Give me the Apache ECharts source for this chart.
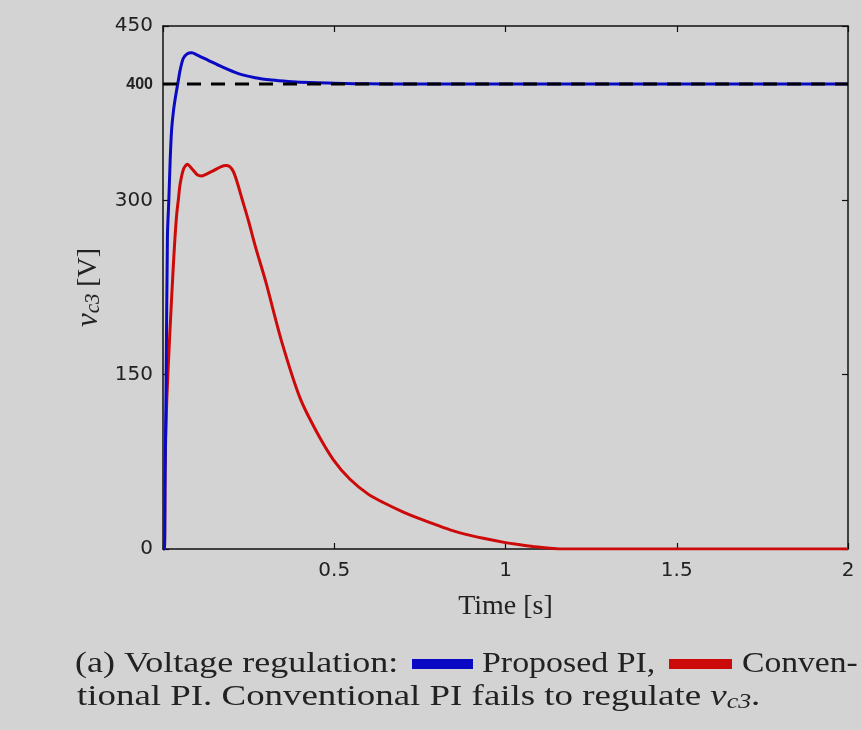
<!DOCTYPE html>
<html>
<head>
<meta charset="utf-8">
<script src="https://cdn.jsdelivr.net/npm/echarts@6/dist/echarts.min.js"></script>
<style>
  html, body { margin: 0; padding: 0; background: #d3d3d3; }
  #chart { width: 862px; height: 730px; }
</style>
</head>
<body>
<div id="chart"></div>
<script>
// time axis ticks and voltage ticks
var timeTicks = [0, 0.5, 1, 1.5, 2];
var voltTicks = [0, 150, 300, 400, 450];

// proposed PI (blue)
var timeBlue = [0, 0.004, 0.006, 0.009, 0.013, 0.017, 0.021, 0.025, 0.031, 0.037, 0.043, 0.05, 0.059, 0.07, 0.084, 0.1, 0.132, 0.171, 0.22, 0.269, 0.317, 0.366, 0.43, 0.5, 0.56, 0.65, 0.8, 1.0, 1.5, 2];
var voltBlue = [0, 0, 60, 140, 270, 300, 335, 360, 378, 390, 400, 412, 422, 426, 427, 425, 420.5, 415, 409, 405.5, 403.5, 402.3, 401.3, 400.8, 400.4, 400.1, 400, 400, 400, 400];

// conventional PI (red)
var timeRed = [0, 0.004, 0.006, 0.011, 0.02, 0.03, 0.035, 0.04, 0.045, 0.05, 0.06, 0.071, 0.085, 0.1, 0.113, 0.13, 0.15, 0.17, 0.183, 0.195, 0.205, 0.215, 0.23, 0.25, 0.27, 0.3, 0.345, 0.4, 0.45, 0.497, 0.546, 0.6, 0.643, 0.7, 0.741, 0.8, 0.838, 0.9, 0.935, 1.0, 1.033, 1.08, 1.13, 1.16, 1.5, 2];
var voltRed = [0, 0, 70, 128, 186, 243, 268, 288, 301, 314, 327, 331, 327, 322, 321, 323, 326, 329, 330, 329, 325, 317, 302, 282, 260, 230, 180, 130, 100, 77, 60, 47, 40, 32, 27, 20.5, 16.5, 11.5, 9.2, 5.5, 4, 2.2, 0.6, 0, 0, 0];

// reference
var refTime = [0, 2];
var refVolt = [400, 400];

function pairs(t, v) {
  return t.map(function (x, i) { return [x, v[i]]; });
}

var chart = echarts.init(document.getElementById('chart'));

var blue = '#0a0ac4';
var red = '#cc0a0a';
var axisLine = { show: true, onZero: false, lineStyle: { color: '#111', width: 1.5 } };
var tick = { show: true, inside: true, length: 6, lineStyle: { color: '#111', width: 1.2 } };
var sans = 'DejaVu Sans, sans-serif';
var serif = 'Liberation Serif, Times New Roman, serif';
var capFont = '30px ' + serif;

var option = {
  backgroundColor: '#d3d3d3',
  animation: false,
  grid: { left: 163, right: 14, top: 26, bottom: 181, outerBoundsMode: 'none' },
  xAxis: [{
    type: 'value', min: 0, max: 2, interval: 0.5, position: 'bottom',
    axisLine: axisLine, axisTick: tick, splitLine: { show: false },
    axisLabel: {
      margin: 12, color: '#222', fontFamily: sans, fontSize: 20,
      formatter: function (v) { return v === 0 ? '' : String(v); }
    },
    name: 'Time [s]', nameLocation: 'middle', nameGap: 44,
    nameTextStyle: { fontFamily: serif, fontSize: 28, color: '#222' }
  }, {
    type: 'value', min: 0, max: 2, interval: 0.5, position: 'top',
    axisLine: axisLine, axisTick: tick, axisLabel: { show: false }, splitLine: { show: false }
  }],
  yAxis: [{
    type: 'value', min: 0, max: 450, position: 'left',
    axisLine: axisLine,
    axisTick: Object.assign({ customValues: voltTicks }, tick),
    splitLine: { show: false },
    axisLabel: {
      customValues: voltTicks, margin: 10, color: '#222', fontFamily: sans, fontSize: 20,
      formatter: function (v) { return v === 400 ? '{s|400}' : String(v); },
      rich: { s: { fontSize: 16, fontWeight: 'bold', fontFamily: 'Liberation Sans, sans-serif', color: '#222' } }
    },
    name: '{i|v}{sub|c3}  {n|[V]}', nameLocation: 'middle', nameGap: 52,
    nameTextStyle: {
      rich: {
        i: { fontFamily: serif, fontStyle: 'italic', fontSize: 31, color: '#222' },
        sub: { fontFamily: serif, fontStyle: 'italic', fontSize: 21, color: '#222', padding: [10, 0, 0, 0] },
        n: { fontFamily: serif, fontSize: 28, color: '#222' }
      }
    }
  }, {
    type: 'value', min: 0, max: 450, position: 'right',
    axisLine: axisLine,
    axisTick: Object.assign({ customValues: voltTicks }, tick),
    axisLabel: { show: false }, splitLine: { show: false }
  }],
  series: [{
    name: 'Conventional PI', type: 'line', data: pairs(timeRed, voltRed),
    showSymbol: false, smooth: 0.25,
    lineStyle: { color: red, width: 3 }, z: 2
  }, {
    name: 'Proposed PI', type: 'line', data: pairs(timeBlue, voltBlue),
    showSymbol: false, smooth: 0.25,
    lineStyle: { color: blue, width: 3 }, z: 3
  }, {
    name: 'Reference', type: 'line', data: pairs(refTime, refVolt),
    showSymbol: false, lineStyle: { color: '#000', width: 3, type: [14, 10] }, z: 4
  }],
  graphic: [
    { type: 'text', x: 75, y: 649, scaleX: 1.2, style: { text: '(a) Voltage regulation:', font: capFont, fill: '#222' } },
    { type: 'rect', x: 412, y: 659, shape: { width: 61, height: 10 }, style: { fill: blue } },
    { type: 'text', x: 482, y: 649, scaleX: 1.13, style: { text: 'Proposed PI,', font: capFont, fill: '#222' } },
    { type: 'rect', x: 669, y: 659, shape: { width: 63, height: 10 }, style: { fill: red } },
    { type: 'text', x: 742, y: 649, scaleX: 1.12, style: { text: 'Conven-', font: capFont, fill: '#222' } },
    { type: 'text', x: 77, y: 682, scaleX: 1.23, style: {
      text: 'tional PI. Conventional PI fails to regulate {i|v}{sub|c3}.',
      font: capFont, fill: '#222',
      rich: {
        i: { fontFamily: serif, fontStyle: 'italic', fontSize: 30, fill: '#222' },
        sub: { fontFamily: serif, fontStyle: 'italic', fontSize: 21, fill: '#222', padding: [10, 0, 0, 0] }
      }
    } }
  ]
};

chart.setOption(option);
</script>
</body>
</html>
